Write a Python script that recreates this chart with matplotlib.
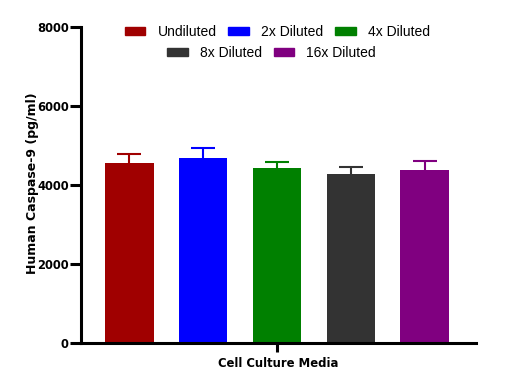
import numpy as np
import matplotlib.pyplot as plt
from matplotlib.patches import Patch

plt.rcParams['font.family'] = ['DejaVu Sans']

# values
groups = ['Undiluted', '2x Diluted', '4x Diluted', '8x Diluted', '16x Diluted']
means = [4560, 4690, 4435, 4285, 4385]
errors = [220, 260, 155, 185, 220]
colors = ['#a00000', '#0000ff', '#008000', '#333333', '#800080']

fig = plt.figure(figsize=(5.2, 3.89), dpi=100)
ax = fig.add_axes([0.156, 0.118, 0.759, 0.812])
ax.set_axisbelow(False)

x = np.arange(len(groups))
ax.bar(x, means, width=0.66, color=colors, zorder=2)
for xi, m, e, c in zip(x, means, errors, colors):
    _, caps, _ = ax.errorbar(xi, m, yerr=[[0], [e]], fmt='none', ecolor=c,
                             elinewidth=1.5, capsize=8.5, capthick=1.5, zorder=1)
    caps[0].set_visible(False)  # only the upper cap

ax.set_xlim(-0.65, 4.69)
ax.set_ylim(0, 8000)
ax.set_yticks([0, 2000, 4000, 6000, 8000])
ax.set_xticks([2.0], labels=[''])

for s in ['top', 'right']:
    ax.spines[s].set_visible(False)
for s in ['left', 'bottom']:
    ax.spines[s].set_linewidth(2.2)
ax.tick_params(axis='y', direction='out', width=2.2, length=8,
               labelsize=8.3, pad=1)
ax.tick_params(axis='x', direction='out', width=2.2, length=6.5,
               color='black', bottom=True)
for lbl in ax.get_yticklabels():
    lbl.set_fontweight('bold')

ax.set_ylabel('Human Caspase-9 (pg/ml)', fontsize=9, fontweight='bold')
ax.yaxis.set_label_coords(-0.107, 0.505)
ax.set_xlabel('Cell Culture Media', fontsize=8.4, fontweight='bold', labelpad=0)

handles = [Patch(color=c) for c in colors]
leg_kw = dict(loc='upper center', frameon=False,
              prop={'family': 'Liberation Sans', 'size': 10},
              handlelength=1.5, handleheight=0.5, columnspacing=0.86,
              handletextpad=0.86, borderpad=0.3)
leg1 = ax.legend(handles[:3], groups[:3], ncol=3,
                 bbox_to_anchor=(0.497, 1.043), **leg_kw)
ax.add_artist(leg1)
ax.legend(handles[3:], groups[3:], ncol=2,
          bbox_to_anchor=(0.482, 0.976), **leg_kw)

fig.savefig('out.png', dpi=100)
